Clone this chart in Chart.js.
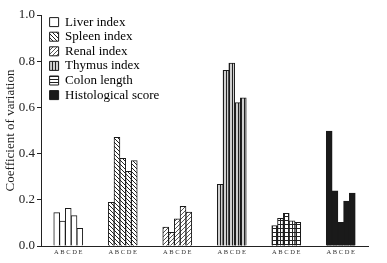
<!DOCTYPE html>
<html>
<head>
<meta charset="utf-8">
<script src="https://cdn.jsdelivr.net/npm/chart.js@4"></script>
<style>
  html, body { margin: 0; padding: 0; background: #fff; }
  #wrap { width: 387px; height: 263px; }
</style>
</head>
<body>
<div id="wrap"><canvas id="cvChart"></canvas></div>
<script>
const groups = ['Liver index', 'Spleen index', 'Renal index', 'Thymus index', 'Colon length', 'Histological score'];
const samples = ['A', 'B', 'C', 'D', 'E'];

const liverIndex = [0.144, 0.108, 0.163, 0.131, 0.076];
const spleenIndex = [0.189, 0.470, 0.379, 0.323, 0.370];
const renalIndex = [0.082, 0.059, 0.117, 0.171, 0.146];
const thymusIndex = [0.267, 0.760, 0.792, 0.621, 0.641];
const colonLength = [0.088, 0.120, 0.141, 0.109, 0.102];
const histologicalScore = [0.497, 0.238, 0.102, 0.194, 0.229];

const groupValues = [liverIndex, spleenIndex, renalIndex, thymusIndex, colonLength, histologicalScore];
const yTicks = [0, 0.2, 0.4, 0.6, 0.8, 1.0];

function makePattern(size, bg, draw) {
    const c = document.createElement('canvas');
    c.width = size; c.height = size;
    const g = c.getContext('2d');
    g.fillStyle = bg;
    g.fillRect(0, 0, size, size);
    g.strokeStyle = '#222';
    g.lineWidth = 1;
    draw(g, size);
    return g.createPattern(c, 'repeat');
}

const ctx = document.getElementById('cvChart').getContext('2d');

const fills = [
    '#ffffff',
    makePattern(4, '#fff', (g, s) => {
        g.beginPath();
        g.moveTo(-1, -1); g.lineTo(s + 1, s + 1);
        g.moveTo(-1, s - 1); g.lineTo(1, s + 1);
        g.moveTo(s - 1, -1); g.lineTo(s + 1, 1);
        g.stroke();
    }),
    makePattern(4, '#fff', (g, s) => {
        g.strokeStyle = '#555';
        g.beginPath();
        g.moveTo(-1, s + 1); g.lineTo(s + 1, -1);
        g.moveTo(-1, 1); g.lineTo(1, -1);
        g.moveTo(s - 1, s + 1); g.lineTo(s + 1, s - 1);
        g.stroke();
    }),
    makePattern(3, '#d0d0d0', (g, s) => {
        g.beginPath();
        g.moveTo(1.5, 0); g.lineTo(1.5, s);
        g.stroke();
    }),
    makePattern(4, '#fff', (g, s) => {
        g.beginPath();
        g.moveTo(0.5, 0); g.lineTo(0.5, s);
        g.moveTo(0, 0.5); g.lineTo(s, 0.5);
        g.stroke();
    }),
    '#1a1a1a'
];

const colonLegendFill = makePattern(3, '#fff', (g, s) => {
    g.beginPath();
    g.moveTo(0, 1.5); g.lineTo(s, 1.5);
    g.stroke();
});

const datasets = samples.map((smp, i) => ({
    label: smp,
    data: groupValues.map(v => v[i]),
    backgroundColor: fills,
    borderColor: '#1a1a1a',
    borderWidth: 1,
    borderSkipped: 'bottom',
    inflateAmount: 0.4,
    barPercentage: 1.0,
    categoryPercentage: 0.53
}));

const legendShift = {
    id: 'legendShift',
    afterLayout(chart) {
        if (chart.legend) {
            chart.legend.left = chart.chartArea.left + 7;
            chart.legend.top = chart.chartArea.top - 1;
        }
    }
};

new Chart(ctx, {
    type: 'bar',
    data: {
        labels: groups,
        datasets: datasets
    },
    plugins: [legendShift],
    options: {
        responsive: true,
        maintainAspectRatio: false,
        animation: false,
        layout: {
            padding: { left: 0, right: 19, top: 15, bottom: 0 }
        },
        plugins: {
            tooltip: { enabled: false },
            legend: {
                position: 'chartArea',
                align: 'start',
                labels: {
                    boxWidth: 9,
                    boxHeight: 9,
                    padding: 1.6,
                    color: '#1a1a1a',
                    font: { family: 'Liberation Serif', size: 13 },
                    generateLabels: function() {
                        return groups.map((g, i) => ({
                            text: g,
                            fillStyle: i === 4 ? colonLegendFill : fills[i],
                            strokeStyle: '#1a1a1a',
                            lineWidth: 1,
                            hidden: false,
                            datasetIndex: 0
                        }));
                    }
                }
            }
        },
        scales: {
            x: {
                grid: { display: false, drawTicks: false },
                border: { display: true, color: '#222', width: 1 },
                ticks: {
                    color: '#333',
                    padding: 2,
                    maxRotation: 0,
                    autoSkip: false,
                    font: { family: 'Liberation Serif', size: 6.5 },
                    callback: function() {
                        return samples.join(' ');
                    }
                },
                afterFit: function(scale) { scale.height = 17; }
            },
            y: {
                min: 0,
                max: 1.0,
                afterBuildTicks: function(scale) {
                    scale.ticks = yTicks.map(v => ({ value: v }));
                },
                grid: {
                    drawOnChartArea: false,
                    drawTicks: true,
                    tickLength: 4,
                    color: '#222'
                },
                border: { display: true, color: '#222', width: 1 },
                ticks: {
                    color: '#222',
                    padding: 2,
                    font: { family: 'Liberation Serif', size: 13 },
                    callback: function(v) { return v.toFixed(1); }
                },
                title: {
                    display: true,
                    text: 'Coefficient of variation',
                    color: '#222',
                    padding: { top: 3, bottom: 0 },
                    font: { family: 'Liberation Serif', size: 13 }
                },
                afterFit: function(scale) { scale.width = 41; }
            }
        }
    }
});
</script>
</body>
</html>
